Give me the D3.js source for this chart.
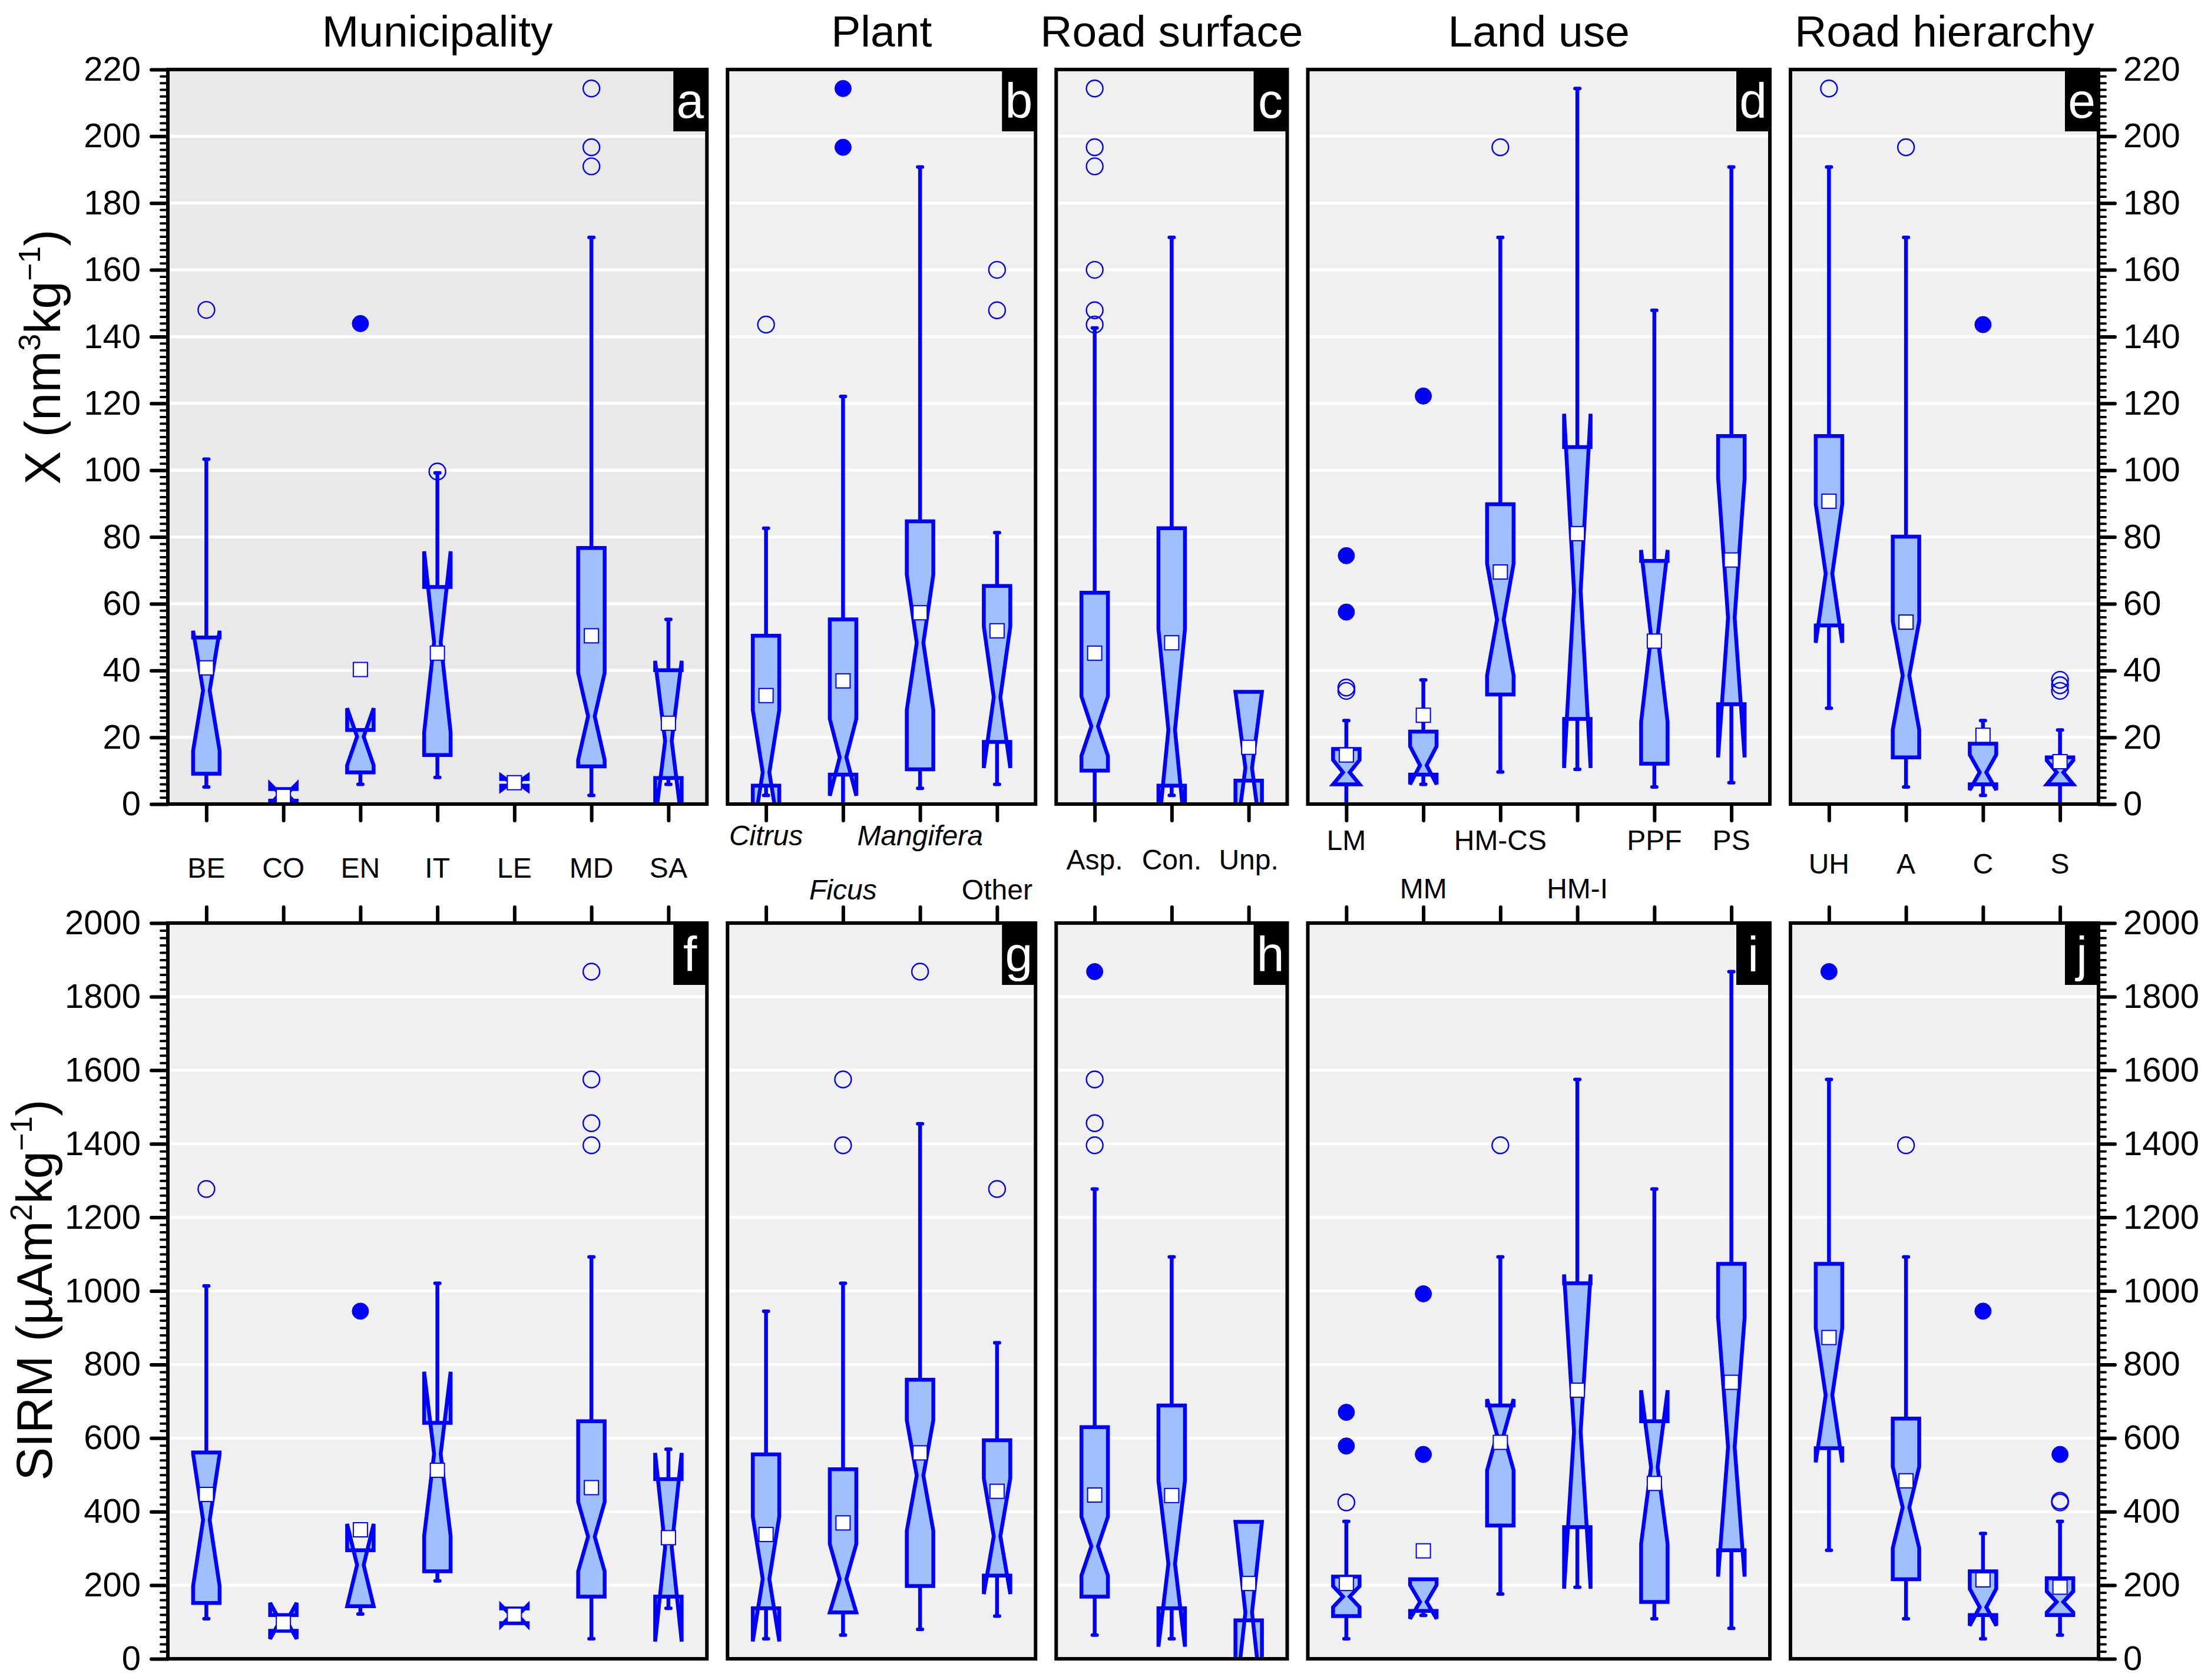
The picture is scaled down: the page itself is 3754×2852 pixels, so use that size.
<!DOCTYPE html>
<html>
<head>
<meta charset="utf-8">
<script src="https://cdn.jsdelivr.net/npm/d3@7"></script>
<style>
  html, body { margin: 0; padding: 0; background: #fff; }
  svg { display: block; }
</style>
</head>
<body>
<svg id="chart"></svg>
<script>
// Groups and their categories (panels left to right)
const groupTitles = ['Municipality', 'Plant', 'Road surface', 'Land use', 'Road hierarchy'];
const categories = [
    ['BE', 'CO', 'EN', 'IT', 'LE', 'MD', 'SA'],
    ['Citrus', 'Ficus', 'Mangifera', 'Other'],
    ['Asp.', 'Con.', 'Unp.'],
    ['LM', 'MM', 'HM-CS', 'HM-I', 'PPF', 'PS'],
    ['UH', 'A', 'C', 'S']
];
const italicCategories = ['Citrus', 'Ficus', 'Mangifera'];
const topLetters = ['a', 'b', 'c', 'd', 'e'];
const bottomLetters = ['f', 'g', 'h', 'i', 'j'];

const chiTicks = [0, 20, 40, 60, 80, 100, 120, 140, 160, 180, 200, 220];
const sirmTicks = [0, 200, 400, 600, 800, 1000, 1200, 1400, 1600, 1800, 2000];

// X (nm3/kg) box statistics, one value per category in the order above
const chiWhiskerLow = [5.1, null, 5.9, 8.0, null, 2.6, 5.9, 2.6, 0, 4.7, 5.9, 0, 2.6, null, 0, 5.9, 9.6, 10.4, 5.1, 6.4, 28.7, 5.1, 2.6, 0];
const chiQ1 = [9.1, 1.0, 9.5, 14.7, 5.5, 11.3, 7.8, 5.5, 8.8, 10.4, 18.6, 10.0, 5.5, 7.0, 5.9, 8.8, 32.8, 25.5, 12.1, 29.9, 53.5, 14.0, 5.9, 5.9];
const chiNotchLow = [16.0, 0.0, 11.6, 21.4, 4.2, 13.2, -5.1, -9.2, 2.5, 28.2, 10.8, 14.4, -8.0, -12.0, 5.9, 5.9, 38.5, 10.8, 24.6, 14.0, 48.3, 22.2, 4.2, 5.9];
const chiMedian = [34.0, 3.0, 20.2, 48.5, 6.4, 26.3, 18.9, 9.5, 14.0, 48.3, 32.0, 23.3, 22.2, 10.8, 9.5, 11.6, 55.2, 63.8, 50.3, 55.8, 69.0, 38.5, 9.5, 9.5];
const chiNotchHigh = [51.9, 6.0, 28.7, 75.7, 8.5, 39.3, 42.9, 28.2, 25.5, 68.7, 53.2, 32.3, 52.4, 33.6, 13.2, 17.3, 72.0, 116.9, 76.1, 97.6, 89.8, 54.8, 14.8, 13.1];
const chiQ3 = [49.9, 4.5, 22.2, 65.0, 7.5, 76.7, 40.1, 50.4, 55.3, 84.7, 65.3, 63.3, 82.6, 33.6, 16.5, 21.7, 89.8, 106.9, 72.8, 110.2, 110.2, 80.1, 18.1, 14.0];
const chiWhiskerHigh = [103.3, null, null, 99.2, null, 169.7, 55.3, 82.6, 122.1, 190.8, 81.3, 142.6, 169.7, null, 25.0, 37.2, 169.7, 214.3, 147.9, 190.8, 190.8, 169.7, 25.0, 22.2];
const chiMean = [40.8, 2.3, 40.3, 45.2, 6.4, 50.4, 24.2, 32.5, 36.9, 57.3, 51.9, 45.2, 48.3, 17.0, 14.7, 26.6, 69.5, 81.0, 48.8, 73.1, 90.7, 54.5, 20.6, 12.7];
const chiOutliers = [[148.0], [], [], [99.6], [], [214.3, 196.7, 191.0], [], [143.6], [], [], [160.0, 147.9],
    [214.3, 196.7, 191.0, 160.0, 147.9, 143.6], [], [], [34.9, 33.9], [], [196.7], [], [], [], [214.3], [196.7], [], [37.2, 35.6, 33.9]];
const chiExtremes = [[], [], [143.9], [], [], [], [], [], [214.3, 196.7], [], [], [], [], [], [74.4, 57.5], [122.2], [], [], [], [], [], [], [143.6], []];

// SIRM (uAm2/kg) box statistics
const sirmWhiskerLow = [108.8, null, 121.7, 211.9, null, 54.4, 137.4, 54.4, 64.4, 80.2, 116.0, 64.4, 54.4, null, 54.4, 118.0, 176.0, 194.7, 108.8, 83.0, 295.0, 108.8, 54.4, 64.4];
const sirmQ1 = [151.7, 76.0, 143.0, 237.6, 97.0, 168.9, 168.9, 137.4, 126.0, 197.6, 226.2, 168.9, 137.4, 104.5, 116.0, 130.3, 362.2, 357.9, 154.6, 295.0, 572.6, 216.2, 118.8, 118.8];
const sirmNotchLow = [197.6, 54.0, 143.0, 333.6, 90.0, 237.6, 47.0, 47.2, 126.0, 347.9, 176.0, 226.2, 32.9, -120.0, 140.3, 108.8, 512.5, 190.4, 312.0, 223.3, 534.0, 300.6, 90.2, 126.0];
const sirmMedian = [377.0, 103.0, 255.0, 557.0, 118.0, 332.0, 303.0, 216.9, 216.2, 498.2, 333.5, 306.0, 258.4, 126.0, 168.9, 154.6, 609.0, 617.7, 521.0, 575.5, 716.5, 411.5, 140.3, 154.6];
const sirmNotchHigh = [556.0, 152.0, 366.5, 780.2, 145.0, 426.6, 559.7, 386.5, 312.0, 648.5, 491.0, 386.5, 483.9, 372.2, 197.5, 200.4, 705.8, 1045.0, 730.1, 927.7, 899.0, 522.5, 190.4, 183.2];
const sirmQ3 = [561.0, 119.0, 295.0, 641.4, 137.0, 645.7, 488.2, 555.5, 515.4, 758.7, 594.1, 629.9, 688.6, 372.2, 223.3, 216.2, 688.6, 1020.7, 645.7, 1073.7, 1073.7, 652.8, 237.6, 219.0];
const sirmWhiskerHigh = [1013.6, null, null, 1020.7, null, 1092.3, 569.8, 944.9, 1020.7, 1454.5, 858.9, 1277.0, 1092.3, null, 373.6, null, 1092.3, 1574.8, 1277.0, 1868.0, 1574.8, 1092.3, 340.7, 373.6];
const sirmMean = [446.7, 97.3, 350.7, 512.5, 118.8, 465.3, 329.3, 337.9, 369.4, 559.8, 455.3, 445.2, 443.8, 204.7, 204.7, 293.5, 588.4, 730.1, 476.7, 751.6, 873.3, 483.9, 214.7, 194.7];
const sirmOutliers = [[1277], [], [], [], [], [1868, 1574.8, 1456, 1395.8], [], [], [1574.8, 1395.8], [1868], [1277],
    [1574.8, 1456, 1395.8], [], [], [425.2], [], [1395.8], [], [], [], [], [1395.8], [], [429.5, 425]];
const sirmExtremes = [[], [], [944.9], [], [], [], [], [], [], [], [], [1868], [], [], [670, 578.4], [992.1, 555.5], [], [], [], [], [1868], [], [944.9], [555.5]];

// Layout
const width = 3754;
const height = 2852;
const step = 130.75;      // distance between category centres
const gap = 35;           // space between panels
const plotLeft = 285;
const halfBox = 22.5;
const notchRatio = 0.25;
const lineWidth = 6.5;
const blue = '#0000ff';
const boxFill = '#a0bfff';
const font = '"Liberation Sans", Arial, Helvetica, sans-serif';

// category label baselines per panel, and which one each label uses
const labelBaselines = [[1490], [1435, 1527], [1476], [1443, 1525], [1483]];
const labelLevels = [[0, 0, 0, 0, 0, 0, 0], [0, 1, 0, 1], [0, 0, 0], [0, 1, 0, 1, 0, 0], [0, 0, 0, 0]];

const svg = d3.select('#chart')
    .attr('width', width)
    .attr('height', height)
    .style('font-family', font);

svg.append('rect').attr('width', width).attr('height', height).attr('fill', '#fff');

// Panels share the same category step
let cursor = plotLeft;
let offset = 0;
const panels = groupTitles.map((title, i) => {
    const cats = categories[i];
    const p = { title, cats, index: i, offset, x0: cursor, x1: cursor + cats.length * step };
    p.x = d3.scalePoint().domain(cats).range([p.x0, p.x1]).padding(0.5);
    cursor = p.x1 + gap;
    offset += cats.length;
    return p;
});

const rows = [
    {
        key: 'chi', top: 118, bottom: 1365, domain: [0, 220], ticks: chiTicks, minor: 2, letters: topLetters,
        stats: { wLo: chiWhiskerLow, q1: chiQ1, nLo: chiNotchLow, med: chiMedian, nHi: chiNotchHigh, q3: chiQ3,
                 wHi: chiWhiskerHigh, mean: chiMean, out: chiOutliers, ext: chiExtremes }
    },
    {
        key: 'sirm', top: 1567, bottom: 2816, domain: [0, 2000], ticks: sirmTicks, minor: 20, letters: bottomLetters,
        stats: { wLo: sirmWhiskerLow, q1: sirmQ1, nLo: sirmNotchLow, med: sirmMedian, nHi: sirmNotchHigh, q3: sirmQ3,
                 wHi: sirmWhiskerHigh, mean: sirmMean, out: sirmOutliers, ext: sirmExtremes }
    }
];

const defs = svg.append('defs');

// Notched box outline; notch may stick out of the box (ears)
function boxPath(cx, y, d) {
    const w = halfBox, wn = halfBox * notchRatio;
    return d3.line()([
        [cx - w, y(d.q1)], [cx - w, y(d.nLo)], [cx - wn, y(d.med)], [cx - w, y(d.nHi)], [cx - w, y(d.q3)],
        [cx + w, y(d.q3)], [cx + w, y(d.nHi)], [cx + wn, y(d.med)], [cx + w, y(d.nLo)], [cx + w, y(d.q1)]
    ]) + 'Z';
}

function styleAxis(g, strokeWidth) {
    g.select('.domain').remove();
    g.selectAll('line').attr('stroke', '#000').attr('stroke-width', strokeWidth).attr('stroke-linecap', 'round');
    g.selectAll('text').attr('font-family', font).attr('font-size', 58).attr('fill', '#000');
}

rows.forEach((row, r) => {
    const y = d3.scaleLinear().domain(row.domain).range([row.bottom, row.top]);
    const minorTicks = d3.range(row.domain[0], row.domain[1] + row.minor / 2, row.minor);

    panels.forEach(p => {
        const g = svg.append('g').attr('class', `panel ${row.key}`);
        const clipId = `clip-${row.key}-${p.index}`;
        defs.append('clipPath').attr('id', clipId).append('rect')
            .attr('x', p.x0).attr('y', row.top)
            .attr('width', p.x1 - p.x0).attr('height', row.bottom - row.top);

        // Background and grid
        g.append('rect')
            .attr('x', p.x0).attr('y', row.top)
            .attr('width', p.x1 - p.x0).attr('height', row.bottom - row.top)
            .attr('fill', (r === 0 && p.index === 0) ? '#e9e9e9' : '#f0f0f0');

        g.selectAll('.grid')
            .data(row.ticks.slice(1, -1))
            .join('line')
            .attr('class', 'grid')
            .attr('x1', p.x0).attr('x2', p.x1)
            .attr('y1', d => y(d)).attr('y2', d => y(d))
            .attr('stroke', '#fff')
            .attr('stroke-width', 5);

        const items = p.cats.map((c, i) => {
            const k = p.offset + i;
            const s = row.stats;
            return {
                cat: c, cx: p.x(c),
                wLo: s.wLo[k], q1: s.q1[k], nLo: s.nLo[k], med: s.med[k], nHi: s.nHi[k],
                q3: s.q3[k], wHi: s.wHi[k], mean: s.mean[k], out: s.out[k], ext: s.ext[k]
            };
        });

        const marks = g.append('g').attr('clip-path', `url(#${clipId})`);

        // Whiskers
        const whiskers = [];
        items.forEach(d => {
            if (d.wHi !== null) whiskers.push({ cx: d.cx, from: d.q3, to: d.wHi });
            if (d.wLo !== null) whiskers.push({ cx: d.cx, from: d.q1, to: d.wLo });
        });
        marks.selectAll('.whisker')
            .data(whiskers)
            .join('line')
            .attr('class', 'whisker')
            .attr('x1', d => d.cx).attr('x2', d => d.cx)
            .attr('y1', d => y(d.from)).attr('y2', d => y(d.to))
            .attr('stroke', blue).attr('stroke-width', lineWidth);
        marks.selectAll('.cap')
            .data(whiskers)
            .join('line')
            .attr('class', 'cap')
            .attr('x1', d => d.cx - 4).attr('x2', d => d.cx + 4)
            .attr('y1', d => y(d.to)).attr('y2', d => y(d.to))
            .attr('stroke', blue).attr('stroke-width', 6).attr('stroke-linecap', 'round');

        // Boxes
        marks.selectAll('.box')
            .data(items)
            .join('path')
            .attr('class', 'box')
            .attr('d', d => boxPath(d.cx, y, d))
            .attr('fill', boxFill)
            .attr('stroke', blue)
            .attr('stroke-width', lineWidth)
            .attr('stroke-linejoin', 'miter')
            .attr('stroke-miterlimit', 3);

        // Means
        marks.selectAll('.mean')
            .data(items)
            .join('rect')
            .attr('class', 'mean')
            .attr('x', d => d.cx - 12).attr('y', d => y(d.mean) - 12)
            .attr('width', 24).attr('height', 24)
            .attr('fill', '#fff').attr('stroke', blue).attr('stroke-width', 2);

        // Outliers (open) and extremes (filled)
        const outs = items.flatMap(d => d.out.map(v => ({ cx: d.cx, v })));
        const exts = items.flatMap(d => d.ext.map(v => ({ cx: d.cx, v })));
        marks.selectAll('.outlier')
            .data(outs)
            .join('circle')
            .attr('class', 'outlier')
            .attr('cx', d => d.cx).attr('cy', d => y(d.v)).attr('r', 14)
            .attr('fill', 'none').attr('stroke', blue).attr('stroke-width', 2.4);
        marks.selectAll('.extreme')
            .data(exts)
            .join('circle')
            .attr('class', 'extreme')
            .attr('cx', d => d.cx).attr('cy', d => y(d.v)).attr('r', 14)
            .attr('fill', blue).attr('stroke', blue).attr('stroke-width', 1);

        // Category ticks
        if (r === 0) {
            g.append('g')
                .attr('transform', `translate(0,${row.bottom})`)
                .call(d3.axisBottom(p.x).tickSize(28).tickFormat(''))
                .call(a => styleAxis(a, 6));
        } else {
            g.append('g')
                .attr('transform', `translate(0,${row.top})`)
                .call(d3.axisTop(p.x).tickSize(27).tickFormat(''))
                .call(a => styleAxis(a, 6));
        }

        // Frame
        g.append('rect')
            .attr('x', p.x0).attr('y', row.top)
            .attr('width', p.x1 - p.x0).attr('height', row.bottom - row.top)
            .attr('fill', 'none').attr('stroke', '#000').attr('stroke-width', 6);

        // Panel letter
        g.append('rect')
            .attr('x', p.x1 - 57).attr('y', row.top)
            .attr('width', 57).attr('height', 105)
            .attr('fill', '#000');
        g.append('text')
            .attr('x', p.x1 - 28.5).attr('y', row.top + 82)
            .attr('text-anchor', 'middle')
            .attr('font-size', 84)
            .attr('fill', '#fff')
            .text(row.letters[p.index]);

        // Y axes on the outer panels
        const fmt = d3.format('d');
        if (p.index === 0) {
            g.append('g').attr('transform', `translate(${p.x0},0)`)
                .call(d3.axisLeft(y).tickValues(minorTicks).tickSize(12).tickFormat(''))
                .call(a => styleAxis(a, 4));
            g.append('g').attr('transform', `translate(${p.x0},0)`)
                .call(d3.axisLeft(y).tickValues(row.ticks).tickSize(28).tickPadding(18).tickFormat(fmt))
                .call(a => styleAxis(a, 6));
        }
        if (p.index === panels.length - 1) {
            g.append('g').attr('transform', `translate(${p.x1},0)`)
                .call(d3.axisRight(y).tickValues(minorTicks).tickSize(12).tickFormat(''))
                .call(a => styleAxis(a, 4));
            g.append('g').attr('transform', `translate(${p.x1},0)`)
                .call(d3.axisRight(y).tickValues(row.ticks).tickSize(28).tickPadding(14).tickFormat(fmt))
                .call(a => styleAxis(a, 6));
        }
    });
});

// Group titles
svg.selectAll('.group-title')
    .data(panels)
    .join('text')
    .attr('class', 'group-title')
    .attr('x', d => (d.x0 + d.x1) / 2)
    .attr('y', 79)
    .attr('text-anchor', 'middle')
    .attr('font-size', 75)
    .attr('fill', '#000')
    .text(d => d.title);

// Category labels between the two rows
panels.forEach(p => {
    const levels = labelBaselines[p.index];
    svg.selectAll(`.cat-label-${p.index}`)
        .data(p.cats)
        .join('text')
        .attr('class', `cat-label-${p.index}`)
        .attr('x', d => p.x(d))
        .attr('y', (d, i) => levels[labelLevels[p.index][i]])
        .attr('text-anchor', 'middle')
        .attr('font-size', 48)
        .attr('font-style', d => italicCategories.includes(d) ? 'italic' : 'normal')
        .attr('fill', '#000')
        .text(d => d);
});

// Y axis titles with superscripts
function axisTitle(x, y, parts) {
    const t = svg.append('text')
        .attr('transform', `translate(${x},${y}) rotate(-90)`)
        .attr('text-anchor', 'middle')
        .attr('font-size', 85)
        .attr('fill', '#000');
    let shift = 0;
    parts.forEach(([str, sup]) => {
        const target = sup ? -34 : 0;
        t.append('tspan')
            .attr('dy', target - shift)
            .attr('font-size', sup ? 52 : 85)
            .text(str);
        shift = target;
    });
}
axisTitle(102, 606, [['X (nm'], ['3', true], ['kg'], ['\u22121', true], [')']]);
axisTitle(88, 2190, [['SIRM (\u00b5Am'], ['2', true], ['kg'], ['\u22121', true], [')']]);
</script>
</body>
</html>
